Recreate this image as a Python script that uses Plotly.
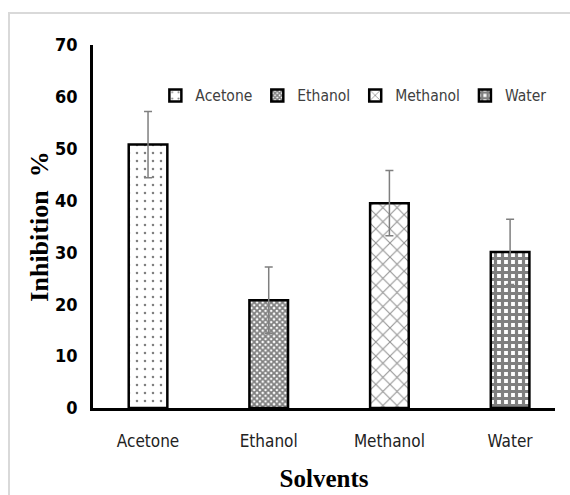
import plotly.graph_objects as go

categories = ["Acetone", "Ethanol", "Methanol", "Water"]
values = [50.8, 20.8, 39.5, 30.1]
errors = [6.4, 6.4, 6.3, 6.3]
y_ticks = [0, 10, 20, 30, 40, 50, 60, 70]

patterns = [
    dict(shape=".", fgcolor="black", bgcolor="white", size=8, solidity=0.08),
    dict(shape="x", fgcolor="black", bgcolor="white", size=4, solidity=0.7),
    dict(shape="x", fgcolor="#222222", bgcolor="white", size=10, solidity=0.2),
    dict(shape="+", fgcolor="black", bgcolor="white", size=7, solidity=0.7),
]

NARROW = "DejaVu Sans Condensed, Roboto, sans-serif"

fig = go.Figure()
for cat, v, e, p in zip(categories, values, errors, patterns):
    fig.add_trace(go.Bar(
        x=[cat], y=[v], name=cat, width=0.32,
        marker=dict(color="white", line=dict(color="black", width=2.5), pattern=p),
        error_y=dict(type="data", array=[e], visible=True, color="#7f7f7f", thickness=1.5, width=4),
    ))

fig.update_layout(
    width=570, height=495,
    margin=dict(l=93, r=15, t=45, b=87),
    paper_bgcolor="white", plot_bgcolor="white",
    barmode="overlay",
    showlegend=True,
    legend=dict(orientation="h", x=0.135, y=0.86, xanchor="left", yanchor="middle",
                font=dict(family=NARROW, size=15.5, color="#404040"),
                bgcolor="rgba(0,0,0,0)", itemwidth=30),
    font=dict(family=NARROW, color="black"),
    xaxis=dict(range=[-0.456, 3.372], showline=True, linecolor="black", linewidth=2.5,
               ticks="", tickfont=dict(size=17, color="#222"), showgrid=False, automargin=False,
               ticklabelstandoff=16,
               title=dict(text="<b>Solvents</b>", font=dict(family="Liberation Serif, serif", size=25, color="black"), standoff=20)),
    yaxis=dict(range=[0, 70], tickvals=y_ticks, showline=True, linecolor="black", linewidth=2.5,
               ticks="", tickfont=dict(size=18, color="black", weight="bold"), showgrid=False, zeroline=False,
               automargin=False, ticklabelstandoff=9,
               title=dict(text="<b>Inhibition  %</b>", font=dict(family="Liberation Serif, serif", size=26, color="black"), standoff=0)),
    shapes=[dict(type="rect", xref="paper", yref="paper", x0=-0.1818, x1=1.2, y0=-0.4, y1=1.088,
                 line=dict(color="#d9d9d9", width=2), layer="below")],
)

fig.write_html("out.html")
